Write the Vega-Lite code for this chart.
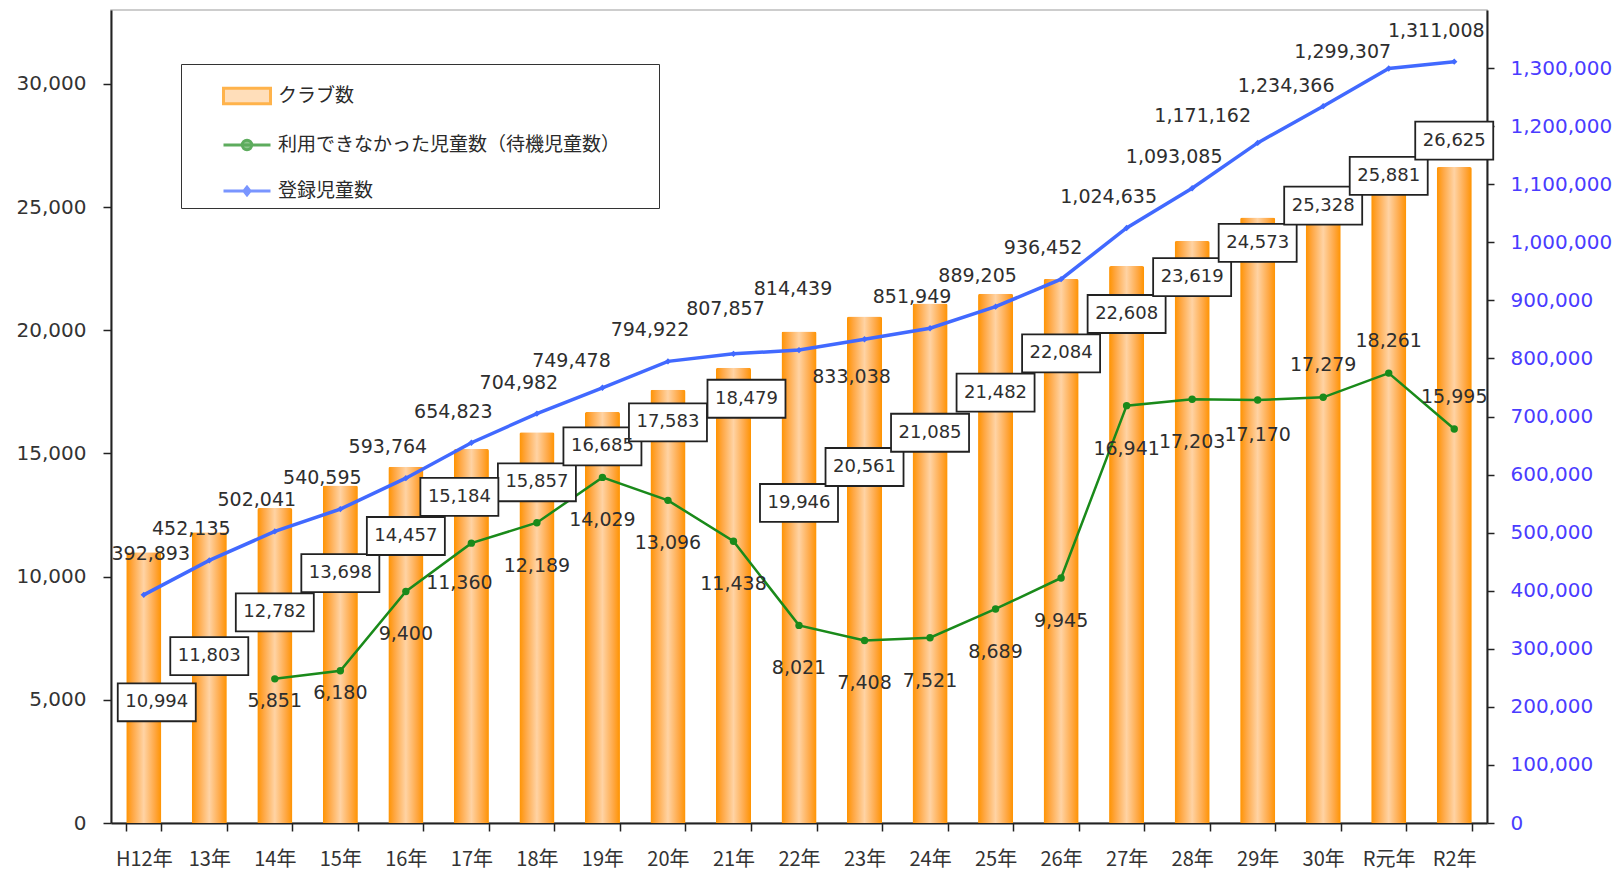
{
  "$schema": "https://vega.github.io/schema/vega-lite/v6.json",
  "width": 1376,
  "height": 813,
  "autosize": "none",
  "padding": {"left": 111, "top": 10, "right": 131, "bottom": 48},
  "background": "white",
  "config": {
    "view": {"stroke": "#bdbdbd", "strokeWidth": 1.5},
    "font": "DejaVu Sans",
    "axisY": {
      "labelFontSize": 20,
      "labelColor": "#333333",
      "domainColor": "#222222",
      "domainWidth": 2,
      "tickColor": "#222222",
      "tickWidth": 1.5,
      "tickSize": 8,
      "labelPadding": 17,
      "grid": false
    },
    "axisRight": {"labelColor": "#4A3CFF", "tickSize": 7, "labelPadding": 16}
  },
  "datasets": {
    "main": [
      {"year": "H12年", "clubs": 10994, "waiting": null, "registered": 392893},
      {"year": "13年", "clubs": 11803, "waiting": null, "registered": 452135},
      {"year": "14年", "clubs": 12782, "waiting": 5851, "registered": 502041},
      {"year": "15年", "clubs": 13698, "waiting": 6180, "registered": 540595},
      {"year": "16年", "clubs": 14457, "waiting": 9400, "registered": 593764},
      {"year": "17年", "clubs": 15184, "waiting": 11360, "registered": 654823},
      {"year": "18年", "clubs": 15857, "waiting": 12189, "registered": 704982},
      {"year": "19年", "clubs": 16685, "waiting": 14029, "registered": 749478},
      {"year": "20年", "clubs": 17583, "waiting": 13096, "registered": 794922},
      {"year": "21年", "clubs": 18479, "waiting": 11438, "registered": 807857},
      {"year": "22年", "clubs": 19946, "waiting": 8021, "registered": 814439},
      {"year": "23年", "clubs": 20561, "waiting": 7408, "registered": 833038},
      {"year": "24年", "clubs": 21085, "waiting": 7521, "registered": 851949},
      {"year": "25年", "clubs": 21482, "waiting": 8689, "registered": 889205},
      {"year": "26年", "clubs": 22084, "waiting": 9945, "registered": 936452},
      {"year": "27年", "clubs": 22608, "waiting": 16941, "registered": 1024635},
      {"year": "28年", "clubs": 23619, "waiting": 17203, "registered": 1093085},
      {"year": "29年", "clubs": 24573, "waiting": 17170, "registered": 1171162},
      {"year": "30年", "clubs": 25328, "waiting": 17279, "registered": 1234366},
      {"year": "R元年", "clubs": 25881, "waiting": 18261, "registered": 1299307},
      {"year": "R2年", "clubs": 26625, "waiting": 15995, "registered": 1311008}
    ],
    "boxes": [
      {"year": "H12年", "clubs": 10994, "at": 4900},
      {"year": "13年", "clubs": 11803, "at": 6770},
      {"year": "14年", "clubs": 12782, "at": 8550},
      {"year": "15年", "clubs": 13698, "at": 10140},
      {"year": "16年", "clubs": 14457, "at": 11650},
      {"year": "17年", "clubs": 15184, "at": 13240},
      {"year": "18年", "clubs": 15857, "at": 13830},
      {"year": "19年", "clubs": 16685, "at": 15290},
      {"year": "20年", "clubs": 17583, "at": 16260},
      {"year": "21年", "clubs": 18479, "at": 17220},
      {"year": "22年", "clubs": 19946, "at": 12990},
      {"year": "23年", "clubs": 20561, "at": 14450},
      {"year": "24年", "clubs": 21085, "at": 15840},
      {"year": "25年", "clubs": 21482, "at": 17470},
      {"year": "26年", "clubs": 22084, "at": 19060},
      {"year": "27年", "clubs": 22608, "at": 20660},
      {"year": "28年", "clubs": 23619, "at": 22160},
      {"year": "29年", "clubs": 24573, "at": 23550},
      {"year": "30年", "clubs": 25328, "at": 25060},
      {"year": "R元年", "clubs": 25881, "at": 26270},
      {"year": "R2年", "clubs": 26625, "at": 27700}
    ],
    "series": [
      {"series": "クラブ数"},
      {"series": "利用できなかった児童数（待機児童数）"},
      {"series": "登録児童数"}
    ]
  },
  "data": {"name": "main"},
  "encoding": {
    "x": {
      "field": "year",
      "type": "nominal",
      "sort": null,
      "scale": {
        "domain": ["H12年", "13年", "14年", "15年", "16年", "17年", "18年", "19年", "20年", "21年", "22年", "23年", "24年", "25年", "26年", "27年", "28年", "29年", "30年", "R元年", "R2年"],
        "paddingInner": 0.465,
        "paddingOuter": 0.2325
      },
      "axis": {
        "title": null,
        "labelAngle": 0,
        "labelFont": "Noto Sans CJK JP",
        "labelFontSize": 20,
        "labelColor": "#333333",
        "domainColor": "#222222",
        "domainWidth": 2,
        "tickColor": "#222222",
        "tickWidth": 1.5,
        "tickSize": 8,
        "tickBand": "extent",
        "labelPadding": 18,
        "grid": false
      }
    }
  },
  "layer": [
    {
      "encoding": {
        "y": {
          "type": "quantitative",
          "scale": {"domain": [0, 33000], "nice": false, "zero": true},
          "axis": {"orient": "left", "title": null, "values": [0, 5000, 10000, 15000, 20000, 25000, 30000], "labelExpr": "format(datum.value, ',')"}
        }
      },
      "layer": [
        {
          "mark": {
            "type": "bar",
            "color": {
              "gradient": "linear",
              "x1": 0, "y1": 0, "x2": 1, "y2": 0,
              "stops": [
                {"offset": 0, "color": "#FF9300"},
                {"offset": 0.18, "color": "#FFA742"},
                {"offset": 0.5, "color": "#FFD3A4"},
                {"offset": 0.82, "color": "#FFA742"},
                {"offset": 1, "color": "#FF9300"}
              ]
            },
            "cornerRadiusTopLeft": 2,
            "cornerRadiusTopRight": 2
          },
          "encoding": {"y": {"field": "clubs"}}
        },
        {
          "transform": [{"filter": "datum.waiting != null"}],
          "mark": {"type": "line", "color": "#1A8A1A", "strokeWidth": 2.5},
          "encoding": {"y": {"field": "waiting"}}
        },
        {
          "transform": [{"filter": "datum.waiting != null"}],
          "mark": {"type": "point", "filled": true, "size": 55, "color": "#1A8A1A", "opacity": 1},
          "encoding": {"y": {"field": "waiting"}}
        },
        {
          "transform": [{"filter": "datum.waiting != null && indexof(['14年','15年','17年','29年','30年','R元年','R2年'], datum.year) < 0"}],
          "mark": {"type": "text", "fontSize": 19, "color": "#2e2e2e", "baseline": "middle", "dy": 43},
          "encoding": {
            "y": {"field": "waiting"},
            "text": {"field": "waiting", "type": "quantitative", "format": ","}
          }
        },
        {
          "transform": [{"filter": "datum.year === '17年'"}],
          "mark": {"type": "text", "fontSize": 19, "color": "#2e2e2e", "baseline": "middle", "dx": -12, "dy": 40},
          "encoding": {
            "y": {"field": "waiting"},
            "text": {"field": "waiting", "type": "quantitative", "format": ","}
          }
        },
        {
          "transform": [{"filter": "datum.year === '14年' || datum.year === '15年'"}],
          "mark": {"type": "text", "fontSize": 19, "color": "#2e2e2e", "baseline": "middle", "dy": 22},
          "encoding": {
            "y": {"field": "waiting"},
            "text": {"field": "waiting", "type": "quantitative", "format": ","}
          }
        },
        {
          "transform": [{"filter": "datum.year === '29年'"}],
          "mark": {"type": "text", "fontSize": 19, "color": "#2e2e2e", "baseline": "middle", "dy": 35},
          "encoding": {
            "y": {"field": "waiting"},
            "text": {"field": "waiting", "type": "quantitative", "format": ","}
          }
        },
        {
          "transform": [{"filter": "datum.year === '30年' || datum.year === 'R元年' || datum.year === 'R2年'"}],
          "mark": {"type": "text", "fontSize": 19, "color": "#2e2e2e", "baseline": "middle", "dy": -32},
          "encoding": {
            "y": {"field": "waiting"},
            "text": {"field": "waiting", "type": "quantitative", "format": ","}
          }
        },
        {
          "data": {"name": "boxes"},
          "transform": [{"filter": "indexof(['H12年','17年','21年'], datum.year) < 0"}],
          "mark": {
            "type": "point",
            "shape": "M-1,-0.487H1V0.487H-1Z",
            "size": 6084,
            "filled": true,
            "fill": "white",
            "stroke": "#222222",
            "strokeWidth": 1.8,
            "opacity": 1
          },
          "encoding": {"y": {"field": "at"}}
        },
        {
          "data": {"name": "boxes"},
          "transform": [{"filter": "indexof(['H12年','17年','21年'], datum.year) < 0"}],
          "mark": {"type": "text", "fontSize": 18, "color": "#2e2e2e", "baseline": "middle"},
          "encoding": {
            "y": {"field": "at"},
            "text": {"field": "clubs", "type": "quantitative", "format": ","}
          }
        },
        {
          "data": {"name": "boxes"},
          "transform": [{"filter": "datum.year === 'H12年' || datum.year === '21年'"}],
          "mark": {
            "type": "point",
            "shape": "M-1,-0.487H1V0.487H-1Z",
            "size": 6084,
            "filled": true,
            "fill": "white",
            "stroke": "#222222",
            "strokeWidth": 1.8,
            "opacity": 1,
            "xOffset": 13
          },
          "encoding": {"y": {"field": "at"}}
        },
        {
          "data": {"name": "boxes"},
          "transform": [{"filter": "datum.year === 'H12年' || datum.year === '21年'"}],
          "mark": {"type": "text", "fontSize": 18, "color": "#2e2e2e", "baseline": "middle", "dx": 13},
          "encoding": {
            "y": {"field": "at"},
            "text": {"field": "clubs", "type": "quantitative", "format": ","}
          }
        },
        {
          "data": {"name": "boxes"},
          "transform": [{"filter": "datum.year === '17年'"}],
          "mark": {
            "type": "point",
            "shape": "M-1,-0.487H1V0.487H-1Z",
            "size": 6084,
            "filled": true,
            "fill": "white",
            "stroke": "#222222",
            "strokeWidth": 1.8,
            "opacity": 1,
            "xOffset": -12
          },
          "encoding": {"y": {"field": "at"}}
        },
        {
          "data": {"name": "boxes"},
          "transform": [{"filter": "datum.year === '17年'"}],
          "mark": {"type": "text", "fontSize": 18, "color": "#2e2e2e", "baseline": "middle", "dx": -12},
          "encoding": {
            "y": {"field": "at"},
            "text": {"field": "clubs", "type": "quantitative", "format": ","}
          }
        }
      ]
    },
    {
      "encoding": {
        "y": {
          "field": "registered",
          "type": "quantitative",
          "scale": {"domain": [0, 1400000], "nice": false, "zero": true},
          "axis": {
            "orient": "right",
            "title": null,
            "values": [0, 100000, 200000, 300000, 400000, 500000, 600000, 700000, 800000, 900000, 1000000, 1100000, 1200000, 1300000],
            "labelExpr": "format(datum.value, ',')"
          }
        }
      },
      "layer": [
        {
          "mark": {"type": "line", "color": "#4169FF", "strokeWidth": 3.5}
        },
        {
          "mark": {"type": "point", "shape": "diamond", "filled": true, "size": 40, "color": "#4169FF", "opacity": 1}
        },
        {
          "transform": [{"filter": "indexof(['H12年','19年','21年','22年','23年','29年','30年','R元年'], datum.year) < 0"}],
          "mark": {"type": "text", "fontSize": 19, "color": "#2e2e2e", "baseline": "middle", "dx": -18, "dy": -31},
          "encoding": {"text": {"field": "registered", "type": "quantitative", "format": ","}}
        },
        {
          "transform": [{"filter": "datum.year === 'H12年'"}],
          "mark": {"type": "text", "fontSize": 19, "color": "#2e2e2e", "baseline": "middle", "dx": 7, "dy": -41},
          "encoding": {"text": {"field": "registered", "type": "quantitative", "format": ","}}
        },
        {
          "transform": [{"filter": "datum.year === '19年'"}],
          "mark": {"type": "text", "fontSize": 19, "color": "#2e2e2e", "baseline": "middle", "dx": -31, "dy": -27},
          "encoding": {"text": {"field": "registered", "type": "quantitative", "format": ","}}
        },
        {
          "transform": [{"filter": "datum.year === '21年'"}],
          "mark": {"type": "text", "fontSize": 19, "color": "#2e2e2e", "baseline": "middle", "dx": -8, "dy": -45},
          "encoding": {"text": {"field": "registered", "type": "quantitative", "format": ","}}
        },
        {
          "transform": [{"filter": "datum.year === '22年'"}],
          "mark": {"type": "text", "fontSize": 19, "color": "#2e2e2e", "baseline": "middle", "dx": -6, "dy": -61},
          "encoding": {"text": {"field": "registered", "type": "quantitative", "format": ","}}
        },
        {
          "transform": [{"filter": "datum.year === '23年'"}],
          "mark": {"type": "text", "fontSize": 19, "color": "#2e2e2e", "baseline": "middle", "dx": -13, "dy": 38},
          "encoding": {"text": {"field": "registered", "type": "quantitative", "format": ","}}
        },
        {
          "transform": [{"filter": "datum.year === '29年'"}],
          "mark": {"type": "text", "fontSize": 19, "color": "#2e2e2e", "baseline": "middle", "dx": -55, "dy": -27},
          "encoding": {"text": {"field": "registered", "type": "quantitative", "format": ","}}
        },
        {
          "transform": [{"filter": "datum.year === '30年'"}],
          "mark": {"type": "text", "fontSize": 19, "color": "#2e2e2e", "baseline": "middle", "dx": -37, "dy": -20},
          "encoding": {"text": {"field": "registered", "type": "quantitative", "format": ","}}
        },
        {
          "transform": [{"filter": "datum.year === 'R元年'"}],
          "mark": {"type": "text", "fontSize": 19, "color": "#2e2e2e", "baseline": "middle", "dx": -46, "dy": -16},
          "encoding": {"text": {"field": "registered", "type": "quantitative", "format": ","}}
        }
      ]
    },
    {
      "data": {"name": "series"},
      "transform": [{"filter": "false"}],
      "mark": {"type": "point", "filled": true, "strokeWidth": 3},
      "encoding": {
        "x": {"field": "series", "type": "nominal", "scale": null},
        "fill": {
          "field": "series",
          "type": "nominal",
          "scale": {
            "domain": ["クラブ数", "利用できなかった児童数（待機児童数）", "登録児童数"],
            "range": ["#FFBE73", "#1A8A1A", "#4169FF"]
          },
          "legend": {
            "orient": "none", "legendX": 70, "legendY": 54, "title": "\u3000", "titleOrient": "right", "titleFontSize": 2, "titlePadding": 32, "direction": "vertical",
            "strokeColor": "#333333", "fillColor": "white", "padding": 7,
            "symbolOffset": 34, "symbolSize": 2209, "symbolStrokeWidth": 3, "labelOffset": 6,
            "labelFont": "Noto Sans CJK JP", "labelFontSize": 19, "labelColor": "#2a2a2a", "labelLimit": 1000,
            "rowPadding": 10
          }
        },
        "stroke": {
          "field": "series",
          "type": "nominal",
          "scale": {
            "domain": ["クラブ数", "利用できなかった児童数（待機児童数）", "登録児童数"],
            "range": ["#FF9300", "#1A8A1A", "#4169FF"]
          },
          "legend": {
            "orient": "none", "legendX": 70, "legendY": 54, "title": "\u3000", "titleOrient": "right", "titleFontSize": 2, "titlePadding": 32, "direction": "vertical",
            "strokeColor": "#333333", "fillColor": "white", "padding": 7,
            "symbolOffset": 34, "symbolSize": 2209, "symbolStrokeWidth": 3, "labelOffset": 6,
            "labelFont": "Noto Sans CJK JP", "labelFontSize": 19, "labelColor": "#2a2a2a", "labelLimit": 1000,
            "rowPadding": 10
          }
        },
        "shape": {
          "field": "series",
          "type": "nominal",
          "scale": {
            "domain": ["クラブ数", "利用できなかった児童数（待機児童数）", "登録児童数"],
            "range": ["M-1,-0.33H1V0.33H-1Z", "M-1,0H1M-0.2,0A0.2,0.2,0,1,1,0.2,0A0.2,0.2,0,1,1,-0.2,0Z", "M-1,0H1M0,-0.16L0.13,0L0,0.16L-0.13,0Z"]
          },
          "legend": {
            "orient": "none", "legendX": 70, "legendY": 54, "title": "\u3000", "titleOrient": "right", "titleFontSize": 2, "titlePadding": 32, "direction": "vertical",
            "strokeColor": "#333333", "fillColor": "white", "padding": 7,
            "symbolOffset": 34, "symbolSize": 2209, "symbolStrokeWidth": 3, "labelOffset": 6,
            "labelFont": "Noto Sans CJK JP", "labelFontSize": 19, "labelColor": "#2a2a2a", "labelLimit": 1000,
            "rowPadding": 10
          }
        }
      }
    }
  ],
  "resolve": {"scale": {"y": "independent"}}
}
